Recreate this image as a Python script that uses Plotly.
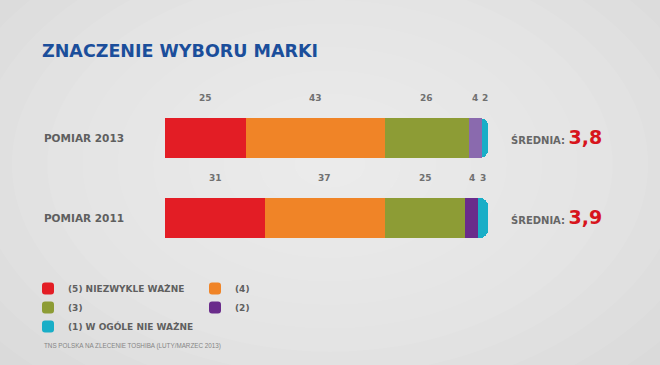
import plotly.graph_objects as go

categories = ["POMIAR 2011", "POMIAR 2013"]
series_names = ["(5) NIEZWYKLE WAŻNE", "(4)", "(3)", "(2)", "(1) W OGÓLE NIE WAŻNE"]
values = {
    "(5) NIEZWYKLE WAŻNE": [31, 25],
    "(4)": [37, 43],
    "(3)": [25, 26],
    "(2)": [4, 4],
    "(1) W OGÓLE NIE WAŻNE": [3, 2],
}
colors = {
    "(5) NIEZWYKLE WAŻNE": ["#E31D25", "#E31D25"],
    "(4)": ["#F08427", "#F08427"],
    "(3)": ["#8D9C35", "#8D9C35"],
    "(2)": ["#6A2C8B", "#8A6AAE"],
    "(1) W OGÓLE NIE WAŻNE": ["#19AEC7", "#19AEC7"],
}
means = ["3,9", "3,8"]
title = "ZNACZENIE WYBORU MARKI"
source = "TNS POLSKA NA ZLECENIE TOSHIBA (LUTY/MARZEC 2013)"

W, H = 660, 365
ML, MR, MT, MB = 165, 172, 98, 107
PW, PH = W - ML - MR, H - MT - MB
FONT = "DejaVu Sans"

def px_x(p):
    return (p - ML) / PW

def px_y(p):
    return (H - MB - p) / PH

fig = go.Figure()
for name in series_names:
    fig.add_trace(go.Bar(
        y=categories, x=values[name], name=name, orientation="h",
        marker=dict(color=colors[name], line=dict(width=0)),
        hoverinfo="x+name",
    ))

annotations = []
for ci, cat in enumerate(categories):
    cum = 0
    for name in series_names:
        v = values[name][ci]
        annotations.append(dict(
            x=cum + v / 2, y=cat, xref="x", yref="y", text=str(v),
            showarrow=False, yshift=40,
            font=dict(family=FONT, size=9, color="#707070", weight="bold"),
        ))
        cum += v
    annotations.append(dict(
        x=cum, y=cat, xref="x", yref="y", xanchor="left", xshift=21, yshift=1,
        text=("<span style='font-size:10px;color:#666666'>ŚREDNIA: </span>"
              f"<span style='font-size:19px;color:#D7141C'>{means[ci]}</span>"),
        showarrow=False,
        font=dict(family=FONT, size=10, color="#666666", weight="bold"),
    ))

annotations.append(dict(
    x=px_x(42), y=px_y(346), xref="paper", yref="paper", xanchor="left", yanchor="middle",
    text=source, showarrow=False,
    font=dict(family="Liberation Sans", size=6.3, color="#858585"),
))

shapes = []
n = 14
for i in range(n):
    f = 1 - i / n
    cx, cy = W * 0.5, H * 0.45
    rx, ry = W * 0.75 * f, H * 0.9 * f
    shapes.append(dict(
        type="circle", xref="paper", yref="paper", layer="below",
        x0=px_x(cx - rx), x1=px_x(cx + rx), y0=px_y(cy + ry), y1=px_y(cy - ry),
        fillcolor="rgba(255,255,255,0.07)", line=dict(width=0),
    ))

fig.update_layout(
    width=W, height=H,
    margin=dict(l=ML, r=MR, t=MT, b=MB),
    barmode="stack", bargap=0.5, barcornerradius=8,
    paper_bgcolor="#d6d6d6", plot_bgcolor="rgba(0,0,0,0)",
    title=dict(text=title, x=42 / W, xref="container", xanchor="left",
               y=1 - 51 / H, yref="container", yanchor="middle",
               font=dict(family=FONT, size=17.5, color="#1B4E9B", weight="bold")),
    xaxis=dict(range=[0, 100], visible=False, fixedrange=True),
    yaxis=dict(categoryorder="array", categoryarray=categories, range=[-0.5, 1.5],
               showgrid=False, zeroline=False, showline=False, ticks="",
               ticklabelstandoff=40,
               tickfont=dict(family=FONT, size=10.5, color="#5f5f5f", weight="bold")),
    legend=dict(orientation="h", x=px_x(28), y=px_y(274), xanchor="left", yanchor="top",
                entrywidth=122, traceorder="normal", itemwidth=30,
                bgcolor="rgba(0,0,0,0)",
                font=dict(family=FONT, size=9, color="#5f5f5f", weight="bold")),
    annotations=annotations,
    shapes=shapes,
    showlegend=True,
)

fig.write_html("out.html")
